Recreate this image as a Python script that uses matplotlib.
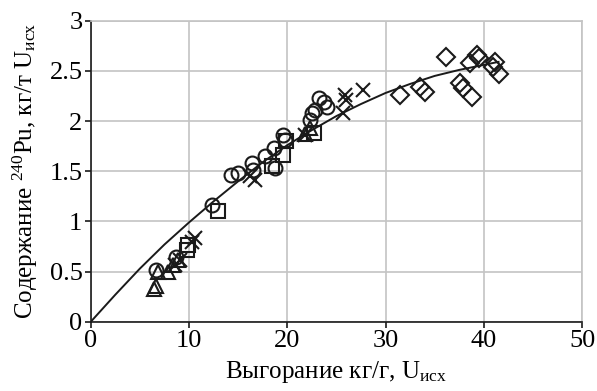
import matplotlib
matplotlib.use("Agg")
import matplotlib.pyplot as plt

plt.rcParams['font.family'] = ['Liberation Serif', 'DejaVu Serif']
plt.rcParams['mathtext.fontset'] = 'custom'
plt.rcParams['mathtext.rm'] = 'Liberation Serif'
plt.rcParams['mathtext.it'] = 'Liberation Serif:italic'

# trend curve
curve_x = [0, 2.5, 5, 7.5, 10, 12.5, 15, 17.5, 20, 22.5, 25, 27.5, 30, 32.5, 35, 37.5, 40, 41.5]
curve_y = [0, 0.27, 0.53, 0.77, 0.99, 1.20, 1.40, 1.59, 1.76, 1.91, 2.05, 2.17, 2.28, 2.37, 2.45, 2.51, 2.56, 2.59]

circle_x = [6.6, 8.7, 12.3, 14.3, 15.0, 16.4, 16.5, 17.7, 18.6, 18.7, 19.6, 19.8, 22.3, 22.5, 23.2, 23.7, 24.0, 22.8]
circle_y = [0.52, 0.65, 1.16, 1.46, 1.48, 1.58, 1.51, 1.65, 1.73, 1.53, 1.86, 1.81, 2.01, 2.08, 2.23, 2.19, 2.14, 2.11]

square_x = [9.8, 9.9, 13.0, 18.4, 19.6, 19.9, 22.7]
square_y = [0.72, 0.77, 1.10, 1.55, 1.66, 1.80, 1.88]

triangle_x = [6.4, 6.6, 6.8, 7.9, 8.4, 8.9, 21.8, 22.3]
triangle_y = [0.33, 0.36, 0.50, 0.50, 0.57, 0.62, 1.87, 1.93]

cross_x = [8.6, 9.1, 10.3, 10.6, 16.2, 16.7, 21.8, 25.7, 25.9, 26.0, 27.7]
cross_y = [0.57, 0.62, 0.80, 0.83, 1.45, 1.41, 1.86, 2.08, 2.26, 2.21, 2.31]

diamond_x = [31.5, 33.5, 34.0, 36.2, 37.6, 37.9, 38.6, 38.8, 39.3, 39.5, 40.9, 41.1, 41.5]
diamond_y = [2.26, 2.34, 2.29, 2.64, 2.38, 2.33, 2.58, 2.24, 2.66, 2.63, 2.54, 2.59, 2.47]

fig = plt.figure(figsize=(5.97, 3.91), dpi=100)
ax = fig.add_axes([0.152, 0.177, 0.823, 0.770])

ax.plot(curve_x, curve_y, color='#1a1a1a', lw=1.4, zorder=3)

mk = dict(linestyle='none', markerfacecolor='none', markeredgecolor='#1a1a1a',
          markeredgewidth=1.5, zorder=4)
ax.plot(circle_x, circle_y, marker='o', markersize=10, **mk)
ax.plot(square_x, square_y, marker='s', markersize=9.5, **mk)
ax.plot(triangle_x, triangle_y, marker='^', markersize=10.5, **mk)
ax.plot(cross_x, cross_y, marker='x', markersize=9.5, **mk)
ax.plot(diamond_x, diamond_y, marker='D', markersize=9, **mk)

ax.set_xlim(0, 50)
ax.set_ylim(0, 3)
ax.set_xticks([0, 10, 20, 30, 40, 50])
ax.set_yticks([0, 0.5, 1, 1.5, 2, 2.5, 3])
ax.set_yticklabels(['0', '0.5', '1', '1.5', '2', '2.5', '3'])
ax.grid(True, color='#c4c4c4', lw=1.2)
ax.set_axisbelow(True)
for s in ['top', 'right']:
    ax.spines[s].set_color('#c4c4c4')
    ax.spines[s].set_linewidth(1.2)
for s in ['left', 'bottom']:
    ax.spines[s].set_color('#1a1a1a')
    ax.spines[s].set_linewidth(1.2)
ax.tick_params(axis='both', direction='out', length=4, width=1.2, color='#1a1a1a',
               labelsize=19, pad=2)

ax.set_xlabel(r'Выгорание кг/г, U$\mathregular{_{исх}}$', fontsize=18, labelpad=5)
ax.set_ylabel(r'Содержание $\mathregular{^{240}}$Pu, кг/т U$\mathregular{_{исх}}$', fontsize=18, labelpad=7)

fig.savefig('out.png', dpi=100)
